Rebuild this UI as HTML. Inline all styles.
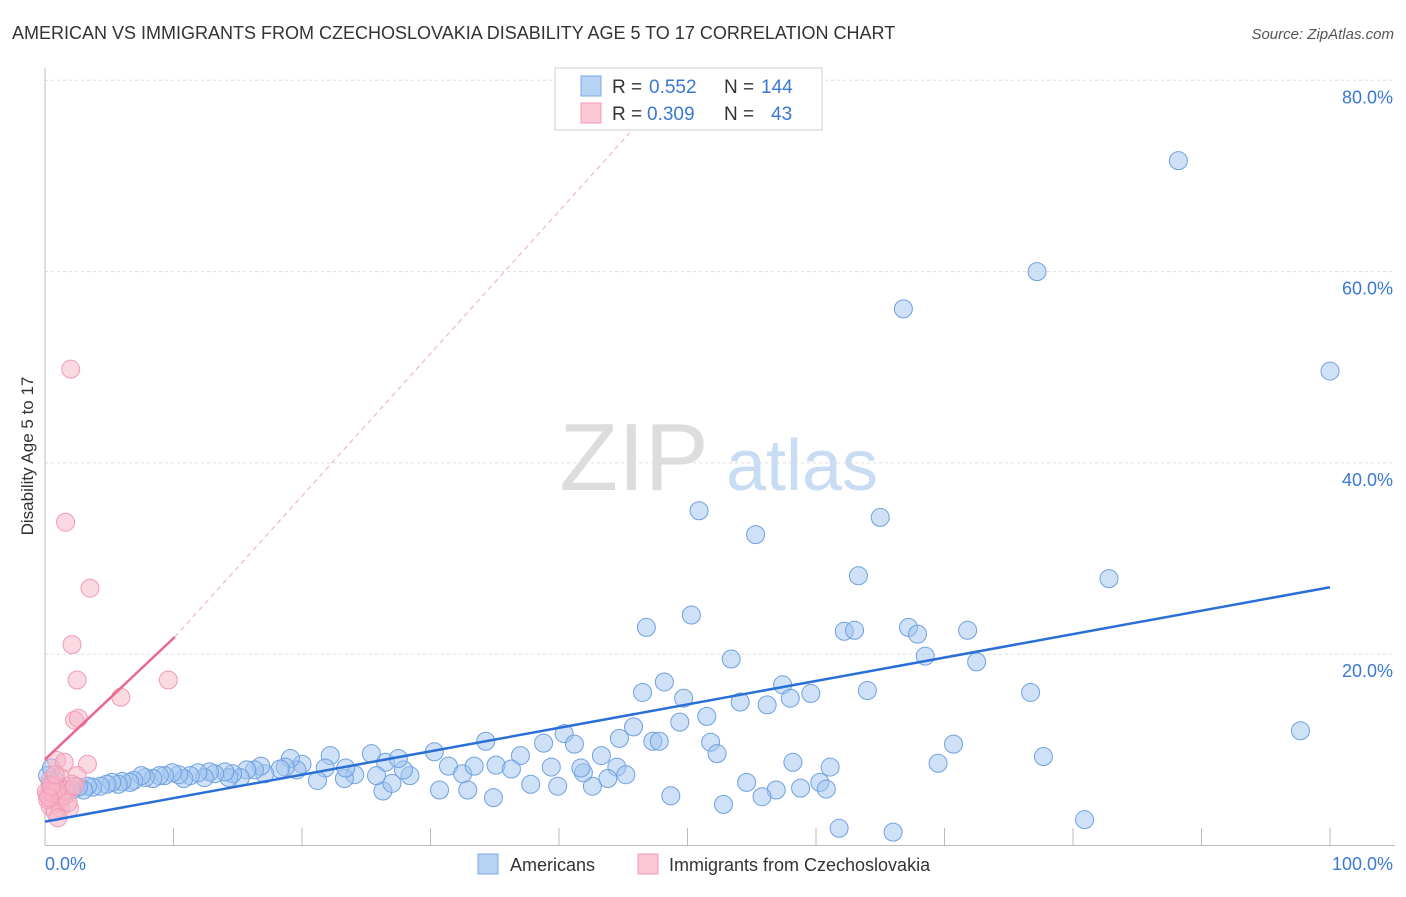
<!DOCTYPE html>
<html><head><meta charset="utf-8"><style>
body{margin:0;background:#fff;font-family:"Liberation Sans",sans-serif;}
svg text{font-family:"Liberation Sans",sans-serif;}
</style></head><body>
<svg id="chart" width="1406" height="892" xmlns="http://www.w3.org/2000/svg">
<text x="12" y="39" font-size="18" fill="#333">AMERICAN VS IMMIGRANTS FROM CZECHOSLOVAKIA DISABILITY AGE 5 TO 17 CORRELATION CHART</text>
<text x="1394" y="39" font-size="15" fill="#555" text-anchor="end" font-style="italic">Source: ZipAtlas.com</text>
<text transform="translate(33,456) rotate(-90)" font-size="17" fill="#333" text-anchor="middle">Disability Age 5 to 17</text>
<g>
<text x="634" y="490" font-size="96" fill="#ddd" text-anchor="middle" font-family="Liberation Serif,serif">ZIP</text>
<text x="802" y="490" font-size="72" fill="#c8dcf4" text-anchor="middle">atlas</text>
</g>
<g id="grid"></g><g id="axes"></g><g id="marks"></g>
<g>
<rect x="555" y="68" width="267" height="62" fill="#fff" stroke="#ccc"/>
<rect x="581" y="76" width="20" height="20" fill="#b8d2f4" stroke="#7aa8e6"/>
<text font-size="19" fill="#333" y="93"><tspan x="612">R =</tspan><tspan x="649" fill="#3a78d4">0.552</tspan><tspan x="724">N =</tspan><tspan x="761" fill="#3a78d4">144</tspan></text>
<rect x="581" y="103" width="20" height="20" fill="#fcc8d6" stroke="#f09ab4"/>
<text font-size="19" fill="#333" y="120"><tspan x="612">R =</tspan><tspan x="647" fill="#3a78d4">0.309</tspan><tspan x="724">N =</tspan><tspan x="771" fill="#3a78d4">43</tspan></text>
</g>
<g>
<rect x="478" y="854" width="20" height="20" fill="#b8d2f4" stroke="#7aa8e6"/>
<text x="510" y="871" font-size="18" fill="#333">Americans</text>
<rect x="638" y="854" width="20" height="20" fill="#fcc8d6" stroke="#f09ab4"/>
<text x="669" y="871" font-size="18" fill="#333">Immigrants from Czechoslovakia</text>
</g>
</svg>
<script>
const yTicks=[20,40,60,80];
const yTickLabels=["20.0%","40.0%","60.0%","80.0%"];
const xTickVals=[0,10,20,30,40,50,60,70,80,90,100];
const blueX=[88.2,77.2,66.8,100,50.9,65.0,55.3,82.8,63.3,46.8,50.3,62.2,63.0,67.2,67.9,71.8,53.4,68.5,72.5,46.5,48.2,49.7,54.1,56.2,57.4,58.0,59.6,64.0,76.7,97.7,51.5,49.4,45.8,47.3,47.8,40.4,41.2,38.8,34.3,51.8,52.3,43.3,44.7,70.7,77.7,69.5,58.2,61.1,54.6,56.9,55.8,52.8,58.8,60.3,60.8,48.7,61.8,66.0,80.9,34.9,32.9,30.7,26.3,37.8,39.9,42.6,35.1,37.0,36.3,39.4,41.9,44.5,45.2,43.8,41.7,31.4,32.5,33.4,30.3,28.4,27.9,27.0,26.5,25.8,27.5,25.4,24.1,23.3,23.4,22.2,21.8,21.2,20.0,19.6,19.1,18.7,18.3,17.1,16.8,16.3,15.7,15.2,14.6,14.3,14.0,13.2,12.8,12.4,11.9,11.3,10.8,10.4,9.9,9.3,8.9,8.4,7.8,7.5,6.9,6.6,6.0,5.7,5.2,4.8,4.3,3.7,3.3,3.0,2.6,2.1,1.6,1.2,0.7,0.4,0.2,0.5,0.9];
const blueY=[71.6,60.0,56.1,49.6,35.0,34.3,32.5,27.9,28.2,22.8,24.1,22.4,22.5,22.8,22.1,22.5,19.5,19.8,19.2,16.0,17.1,15.4,15.0,14.7,16.8,15.4,15.9,16.2,16.0,12.0,13.5,12.9,12.4,10.9,10.9,11.7,10.6,10.7,10.9,10.8,9.6,9.4,11.2,10.6,9.3,8.6,8.7,8.2,6.6,5.8,5.1,4.3,6.0,6.6,5.9,5.2,1.8,1.4,2.7,5.0,5.8,5.8,5.7,6.4,6.2,6.2,8.4,9.4,8.0,8.2,7.6,8.2,7.4,7.0,8.1,8.3,7.5,8.3,9.8,7.3,7.9,6.5,8.7,7.3,9.1,9.6,7.4,7.0,8.1,9.4,8.1,6.8,8.5,7.9,9.1,8.2,8.0,7.5,8.3,7.9,7.9,7.1,7.5,7.1,7.7,7.5,7.7,7.1,7.6,7.3,7.0,7.4,7.6,7.3,7.3,7.0,7.1,7.3,6.8,6.6,6.7,6.4,6.6,6.4,6.2,6.1,6.2,5.8,6.1,5.8,5.6,6.0,5.8,6.4,7.3,8.1,6.7];
const pinkX=[2.0,1.6,3.5,2.1,2.5,9.6,5.9,2.3,2.6,0.9,1.5,3.3,2.5,1.2,0.4,0.8,0.4,0.2,0.5,1.0,0.4,1.2,1.9,1.6,0.8,1.0,1.6,2.1,0.1,0.2,0.6,1.3,0.9,0.3,1.8,0.5,2.3,0.8];
const pinkY=[49.8,33.8,26.9,21.0,17.3,17.3,15.5,13.1,13.3,8.9,8.7,8.5,7.3,7.1,6.8,6.3,5.8,5.3,4.8,4.5,4.1,3.9,3.9,5.3,3.5,2.9,5.8,6.4,5.6,4.8,5.5,5.1,5.9,5.0,4.5,6.2,6.2,7.4];
const blueTrend=[2.5,27.0];
const pinkTrend=[9.0,21.8];
const pinkDashEnd=[45.5,74.5];
const X=v=>45+v*12.85, Y=v=>845.5-v*9.565;
const NS="http://www.w3.org/2000/svg";
function mk(tag,attrs,parent){const e=document.createElementNS(NS,tag);for(const k in attrs)e.setAttribute(k,attrs[k]);parent.appendChild(e);return e;}
const grid=document.getElementById('grid'),axes=document.getElementById('axes'),marks=document.getElementById('marks');
yTicks.forEach((t,i)=>{
 const l=mk('line',{x1:45,x2:1395,y1:Y(t),y2:Y(t),stroke:'#ddd','stroke-dasharray':'3,3'},grid);
 
 
 const tx=mk('text',{x:1393,y:Y(t)+23,'font-size':18,fill:'#3a78d4','text-anchor':'end'},grid);
 tx.textContent=yTickLabels[i];
 
 
});
const ax=mk('line',{x1:45,x2:1395,y1:845.5,y2:845.5,stroke:'#bbb'},axes);


const ay=mk('line',{x1:45,x2:45,y1:68,y2:845.5,stroke:'#bbb'},axes);


xTickVals.forEach(v=>{
 const t=mk('line',{x1:X(v),x2:X(v),y1:828,y2:845.5,stroke:'#bbb'},axes);
 
 
});
const xl0=mk('text',{x:45,y:870,'font-size':18,fill:'#3a78d4'},axes);xl0.textContent='0.0%';


const xl1=mk('text',{x:1393,y:870,'font-size':18,fill:'#3a78d4','text-anchor':'end'},axes);xl1.textContent='100.0%';


blueX.forEach((x,i)=>{
 const c=mk('circle',{cx:X(x),cy:Y(blueY[i]),r:9,fill:'rgba(160,196,240,0.5)',stroke:'#6fa0e0','stroke-width':1},marks);
 
 
});
pinkX.forEach((x,i)=>{
 const c=mk('circle',{cx:X(x),cy:Y(pinkY[i]),r:9,fill:'rgba(248,180,200,0.5)',stroke:'#f09ab4','stroke-width':1},marks);
 
 
});
const bt=mk('line',{x1:X(0),y1:Y(blueTrend[0]),x2:X(100),y2:Y(blueTrend[1]),stroke:'#2a6fd6','stroke-width':2.5},marks);


const pt=mk('line',{x1:X(0),y1:Y(pinkTrend[0]),x2:X(10.1),y2:Y(pinkTrend[1]),stroke:'#e86890','stroke-width':2.5},marks);


const pd=mk('line',{x1:X(10.1),y1:Y(pinkTrend[1]),x2:X(pinkDashEnd[0]),y2:Y(pinkDashEnd[1]),stroke:'#f0a8bc','stroke-width':1,'stroke-dasharray':'5,4'},marks);


</script>
</body></html>
